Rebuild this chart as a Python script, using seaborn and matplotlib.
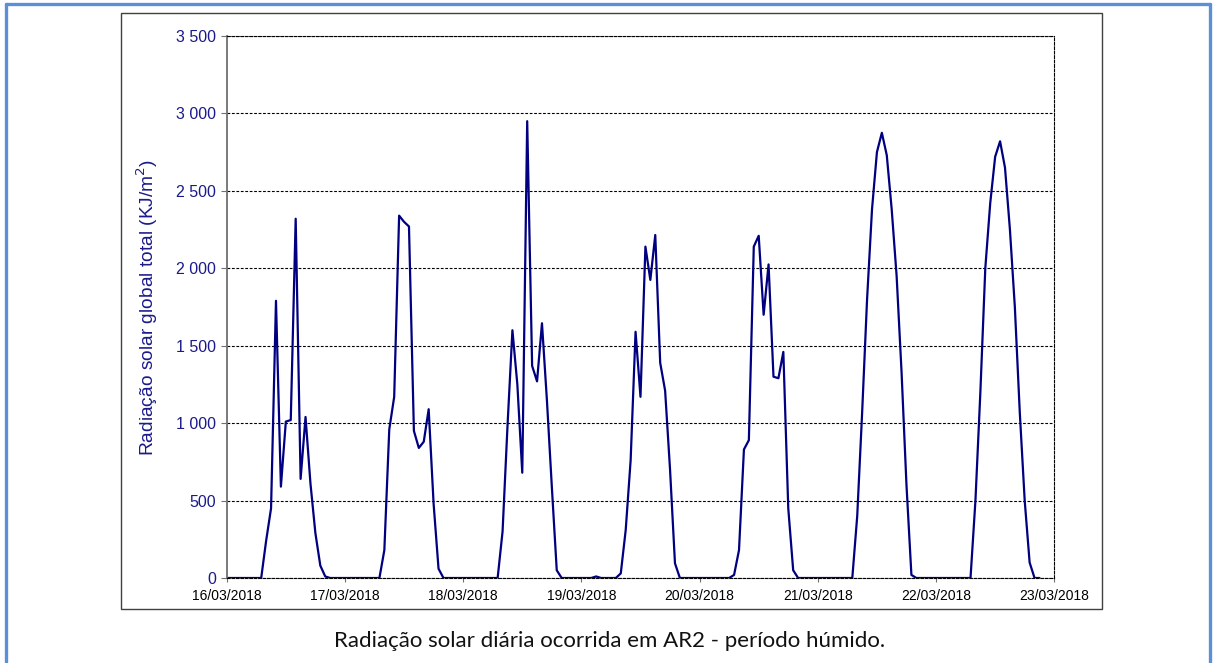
import numpy as np
import pandas as pd
import matplotlib
matplotlib.use("Agg")
import matplotlib.pyplot as plt
import matplotlib.dates as mdates
from matplotlib.ticker import FuncFormatter
from matplotlib.patches import Rectangle
from matplotlib.lines import Line2D
import seaborn as sns

# dados horários de radiação (KJ/m2), um dia por lista (horas 0..23)
dia_16 = [0, 0, 0, 0, 0, 0, 0, 0, 240, 450, 1790, 590, 1010, 1020, 2320, 640, 1040, 610, 290, 80, 10, 0, 0, 0]
dia_17 = [0, 0, 0, 0, 0, 0, 0, 0, 180, 960, 1170, 2340, 2300, 2270, 950, 840, 880, 1090, 480, 60, 0, 0, 0, 0]
dia_18 = [0, 0, 0, 0, 0, 0, 0, 0, 300, 980, 1600, 1250, 680, 2950, 1370, 1270, 1645, 1150, 590, 50, 0, 0, 0, 0]
dia_19 = [0, 0, 0, 10, 0, 0, 0, 0, 30, 310, 760, 1590, 1170, 2140, 1925, 2215, 1390, 1210, 700, 95, 0, 0, 0, 0]
dia_20 = [0, 0, 0, 0, 0, 0, 0, 20, 180, 830, 890, 2140, 2210, 1700, 2025, 1300, 1290, 1460, 450, 50, 0, 0, 0, 0]
dia_21 = [0, 0, 0, 0, 0, 0, 0, 0, 400, 1070, 1800, 2380, 2750, 2875, 2730, 2380, 1950, 1330, 600, 20, 0, 0, 0, 0]
dia_22 = [0, 0, 0, 0, 0, 0, 0, 0, 500, 1200, 2000, 2420, 2720, 2820, 2650, 2250, 1750, 1070, 500, 100, 0, 0]

inicio = "2018-03-16 00:00"
fim_eixo = "2018-03-23 00:00"
titulo_y = "Radiação solar global total (KJ/m$^2$)"
legenda = "Radiação solar diária ocorrida em AR2 - período húmido."

valores = dia_16 + dia_17 + dia_18 + dia_19 + dia_20 + dia_21 + dia_22
dados = pd.DataFrame({
    "data": pd.date_range(inicio, periods=len(valores), freq="h"),
    "radiacao": valores,
})

sns.set_style("white")
plt.rcParams["font.family"] = ["Liberation Sans", "DejaVu Sans"]

azul_txt = "#1a1a8c"
fig = plt.figure(figsize=(12.15, 6.63), dpi=100)
ax = fig.add_axes([0.1866, 0.1282, 0.6811, 0.8175])

sns.lineplot(data=dados, x="data", y="radiacao", ax=ax, color="#000080", linewidth=1.6)

ax.set_xlim(pd.Timestamp(inicio), pd.Timestamp(fim_eixo))
ax.set_ylim(0, 3500)
ax.set_yticks(np.arange(0, 3501, 500))
ax.yaxis.set_major_formatter(FuncFormatter(lambda v, p: f"{v:,.0f}".replace(",", " ")))
ax.xaxis.set_major_locator(mdates.DayLocator())
ax.xaxis.set_major_formatter(mdates.DateFormatter("%d/%m/%Y"))

ax.grid(axis="y", color="black", linestyle=(0, (2.5, 1.5)), linewidth=0.8)
ax.set_axisbelow(True)
ax.set_xlabel("")
ax.set_ylabel(titulo_y, color=azul_txt, fontsize=13.8, labelpad=12)

for lado in ["top", "right", "bottom"]:
    ax.spines[lado].set_linestyle((0, (2.5, 1.5)))
    ax.spines[lado].set_color("black")
    ax.spines[lado].set_linewidth(0.8)
ax.spines["left"].set_color("#707070")
ax.spines["left"].set_linewidth(1.3)

ax.tick_params(axis="y", colors="#707070", labelcolor=azul_txt, labelsize=11.5, length=4, direction="out", left=True)
ax.tick_params(axis="x", colors="#707070", labelcolor="black", labelsize=10, length=3, direction="out", bottom=True, pad=5)

# moldura do gráfico
fig.patches.append(Rectangle((0.0993, 0.0814), 0.8077, 0.899, transform=fig.transFigure,
                             fill=False, edgecolor="#404040", linewidth=1.0))
# contorno azul da página
azul_borda = "#5b8fd6"
fig.lines.append(Line2D([0.005, 0.005], [0.0, 0.994], transform=fig.transFigure, color=azul_borda, linewidth=2.4))
fig.lines.append(Line2D([0.005, 0.9955], [0.994, 0.994], transform=fig.transFigure, color=azul_borda, linewidth=2.4))
fig.lines.append(Line2D([0.9955, 0.9955], [0.0, 0.994], transform=fig.transFigure, color=azul_borda, linewidth=2.4))

fig.text(0.502, 0.033, legenda, ha="center", va="center", fontsize=16, color="#111111",
         family=["Lato", "DejaVu Sans"])

fig.savefig("out.png", dpi=100)
